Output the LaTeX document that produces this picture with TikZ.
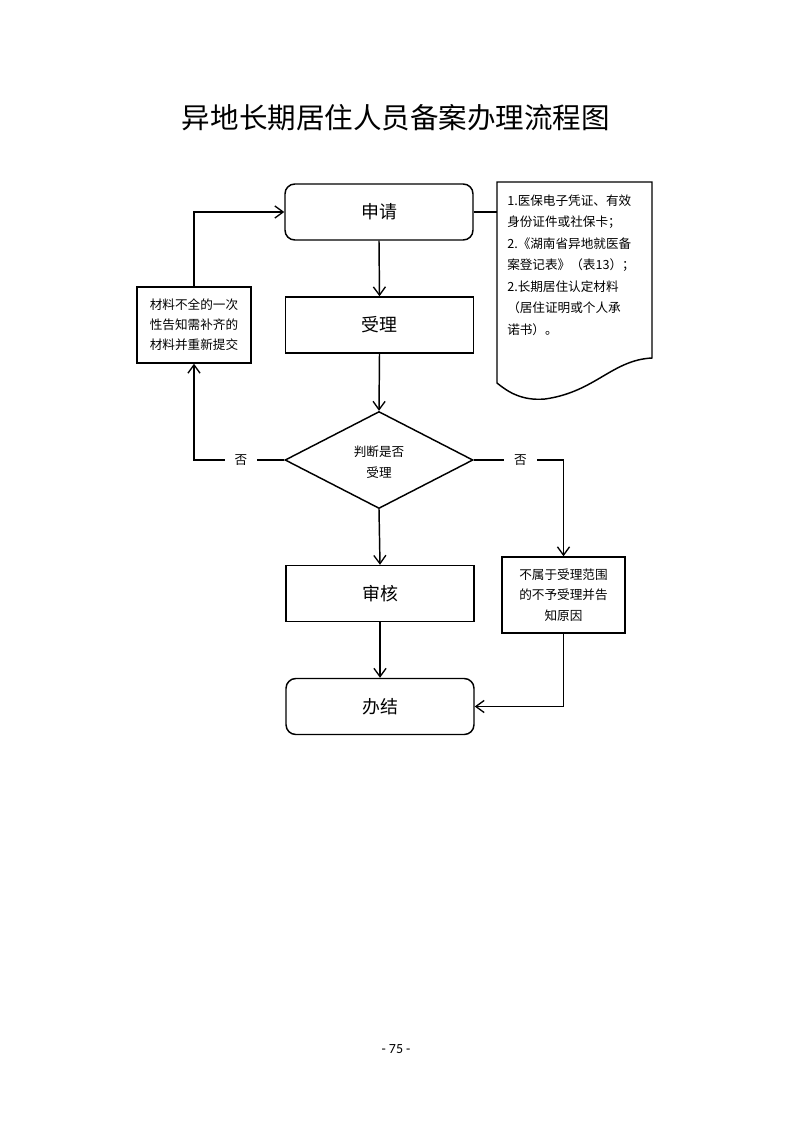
\documentclass[tikz,border=0pt]{standalone}
\usepackage{fontspec}
\setmainfont{Noto Sans CJK SC}
\newfontfamily\pagefont{Carlito}
\usetikzlibrary{arrows.meta,shapes.geometric}
\newlength\pxu
\setlength\pxu{0.2648mm}
\tikzset{
  px/.style={x=0.2648mm,y=-0.2648mm},
  ln/.style={line width=1.1pt},
  arr/.style={ln,-{Straight Barb[length=2.2mm,width=3.2mm,line width=1pt]}},
  rbox/.style={draw,ln,rounded corners=2.6mm,minimum width=188\pxu,minimum height=56\pxu,font=\fontsize{13.5}{16}\selectfont,inner sep=0pt},
  sbox/.style={draw,ln,minimum width=188\pxu,minimum height=56\pxu,font=\fontsize{13.5}{16}\selectfont,inner sep=0pt},
  nbox/.style={draw,ln,align=center,font=\fontsize{9.5}{15.2}\selectfont,inner sep=0pt},
  lab/.style={fill=white,inner xsep=2.6mm,inner ysep=1pt,font=\fontsize{9.5}{12}\selectfont},
}
\begin{document}
\begin{tikzpicture}[px]
\useasboundingbox (0,0) rectangle (793,1122);
% title
\node (title) at (396,118) {\fontsize{21.5}{24}\selectfont 异地长期居住人员备案办理流程图};
% main boxes
\node[rbox] (apply) at (379,212) {申请};
\node[sbox] (accept) at (379.5,325) {受理};
\node[draw,ln,diamond,aspect=1.94,minimum width=188\pxu,minimum height=97\pxu,inner sep=0pt] (judge) at (379,460) {};
\node[align=center,font=\fontsize{9.5}{15.5}\selectfont] (judgetxt) at (379,462) {判断是否\\受理};
\node[sbox] (review) at (380,593.5) {审核};
\node[rbox] (done) at (380,706.5) {办结};
% side boxes
\node[nbox,minimum width=114\pxu,minimum height=76\pxu] (resub) at (194,325) {材料不全的一次\\性告知需补齐的\\材料并重新提交};
\node[nbox,minimum width=123\pxu,minimum height=76\pxu] (reject) at (563.5,595) {不属于受理范围\\的不予受理并告\\知原因};
% document shape
\draw[ln] (497,182) coordinate (docA) -- (652,182) -- (652,358)
  .. controls (612,360) and (595,392) .. (545,399)
  .. controls (522,401) and (508,392) .. (497,383) -- cycle;
\node[anchor=north west,align=left,font=\fontsize{9.5}{16.2}\selectfont,inner sep=0pt] (doctxt) at (507,194.5)
{1.医保电子凭证、有效\\身份证件或社保卡；\\2.《湖南省异地就医备\\案登记表》（表13）；\\2.长期居住认定材料\\（居住证明或个人承\\诺书）。};
\coordinate (docL) at (497,212);
% connectors
\draw[ln] (apply.east) -- (docL);
\draw[arr] (apply.south) -- (accept.north);
\draw[arr] (accept.south) -- (judge.north);
\draw[arr] (judge.south) -- (review.north);
\draw[arr] (review.south) -- (done.north);
\draw[arr] (judge.west) -- node[lab,pos=0.48]{否} (judge.west -| resub.south) -- (resub.south);
\draw[arr] (resub.north) |- (apply.west);
\draw[arr] (judge.east) -- node[lab,pos=0.52]{否} (judge.east -| reject.north) -- (reject.north);
\draw[arr] (reject.south) |- (done.east);
% page number
\node (page) at (396,1049) {\pagefont\fontsize{10.5}{12}\selectfont - 75 -};
\end{tikzpicture}
\end{document}
